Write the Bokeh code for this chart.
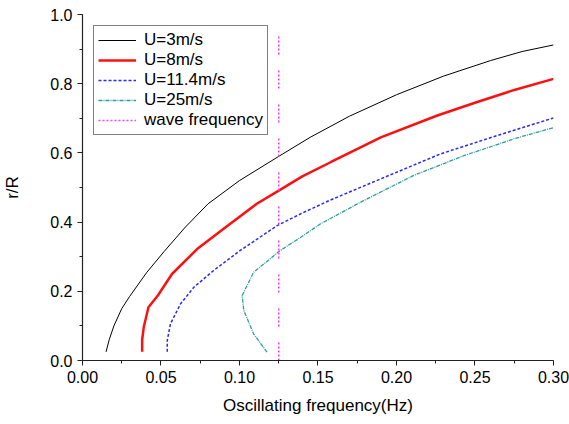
from bokeh.plotting import figure
from bokeh.models import Range1d, SingleIntervalTicker, NumeralTickFormatter, Legend, LegendItem
from bokeh.embed import file_html
from bokeh.resources import INLINE

# ---- data ----
u3_f = [0.015, 0.017, 0.020, 0.025, 0.030, 0.041, 0.052, 0.065, 0.080, 0.100, 0.125, 0.145, 0.170, 0.200, 0.230, 0.260, 0.280, 0.300]
u3_r = [0.025, 0.060, 0.100, 0.150, 0.185, 0.255, 0.315, 0.383, 0.453, 0.520, 0.590, 0.645, 0.706, 0.768, 0.822, 0.867, 0.893, 0.912]

u8_f = [0.038, 0.038, 0.039, 0.042, 0.048, 0.057, 0.073, 0.092, 0.111, 0.125, 0.140, 0.158, 0.190, 0.226, 0.250, 0.275, 0.300]
u8_r = [0.025, 0.060, 0.096, 0.154, 0.188, 0.250, 0.322, 0.388, 0.453, 0.491, 0.532, 0.573, 0.645, 0.708, 0.745, 0.782, 0.814]

u11_f = [0.054, 0.054, 0.056, 0.0625, 0.071, 0.0835, 0.1005, 0.124, 0.139, 0.157, 0.190, 0.228, 0.264, 0.300]
u11_r = [0.025, 0.058, 0.106, 0.164, 0.212, 0.260, 0.318, 0.390, 0.424, 0.462, 0.525, 0.597, 0.650, 0.701]

u25_f = [0.1175, 0.109, 0.1027, 0.1017, 0.109, 0.126, 0.139, 0.1516, 0.179, 0.211, 0.243, 0.275, 0.300]
u25_r = [0.024, 0.077, 0.145, 0.188, 0.255, 0.318, 0.356, 0.395, 0.462, 0.535, 0.592, 0.641, 0.673]

wave_f = [0.125, 0.125]
wave_r = [0.0, 0.975]

labels = ["U=3m/s", "U=8m/s", "U=11.4m/s", "U=25m/s", "wave frequency"]

FONT = "Liberation Sans"

p = figure(width=569, height=424, output_backend="svg", toolbar_location=None,
           x_range=Range1d(0, 0.300001), y_range=Range1d(0, 1.000001),
           min_border_left=82, min_border_right=16, min_border_top=14, min_border_bottom=64,
           x_axis_label="Oscillating frequency(Hz)", y_axis_label="r/R")
p.outline_line_color = None
p.xgrid.visible = False
p.ygrid.visible = False
p.background_fill_color = "white"
p.border_fill_color = "white"

p.xaxis.ticker = SingleIntervalTicker(interval=0.05, num_minor_ticks=2)
p.yaxis.ticker = SingleIntervalTicker(interval=0.2, num_minor_ticks=2)
p.xaxis.formatter = NumeralTickFormatter(format="0.00")
p.yaxis.formatter = NumeralTickFormatter(format="0.0")

for ax in (p.xaxis, p.yaxis):
    ax.axis_line_color = "#222222"
    ax.axis_line_width = 1.2
    ax.major_tick_line_color = "#222222"
    ax.minor_tick_line_color = "#222222"
    ax.major_tick_in = 0
    ax.major_tick_out = 5
    ax.minor_tick_in = 0
    ax.minor_tick_out = 3
    ax.major_label_text_font = FONT
    ax.major_label_text_font_size = "16px"
    ax.major_label_text_color = "black"
    ax.axis_label_text_font = FONT
    ax.axis_label_text_font_size = "17px"
    ax.axis_label_text_font_style = "normal"
    ax.axis_label_text_color = "black"
    ax.major_label_standoff = 5
p.xaxis.axis_label_standoff = 10
p.yaxis.axis_label_standoff = 25

WAVE_COLOR = "#FF3CFF"
r3 = p.line(u3_f, u3_r, line_color="black", line_width=1)
r8 = p.line(u8_f, u8_r, line_color="#FF1010", line_width=2.5)
r11 = p.line(u11_f, u11_r, line_color="#2828FF", line_width=1.5, line_dash="3 2")
r25 = p.line(u25_f, u25_r, line_color="#2E9C99", line_width=1.3, line_dash="4 1 1 1")
rw = p.line(wave_f, wave_r, line_color=WAVE_COLOR, line_width=1.5,
            line_dash="2 2 2 2 2 2 2 2 2 16")
# legend-only renderer (no visible data) so the legend sample is a plain dotted line
rw_leg = p.line([float("nan")], [float("nan")], line_color=WAVE_COLOR, line_width=1.5, line_dash="2 2")

legend = Legend(items=[
    LegendItem(label=labels[0], renderers=[r3]),
    LegendItem(label=labels[1], renderers=[r8]),
    LegendItem(label=labels[2], renderers=[r11]),
    LegendItem(label=labels[3], renderers=[r25]),
    LegendItem(label=labels[4], renderers=[rw_leg]),
], location="top_left")
legend.margin = 11
legend.padding = 4
legend.spacing = 0
legend.label_height = 20
legend.glyph_height = 20
legend.glyph_width = 38
legend.label_standoff = 8
legend.label_text_font = FONT
legend.label_text_font_size = "17px"
legend.label_text_color = "black"
legend.border_line_color = "black"
legend.border_line_width = 1
legend.background_fill_alpha = 1.0
legend.background_fill_color = "white"
p.add_layout(legend)

open("out.html", "w").write(file_html(p, INLINE))
